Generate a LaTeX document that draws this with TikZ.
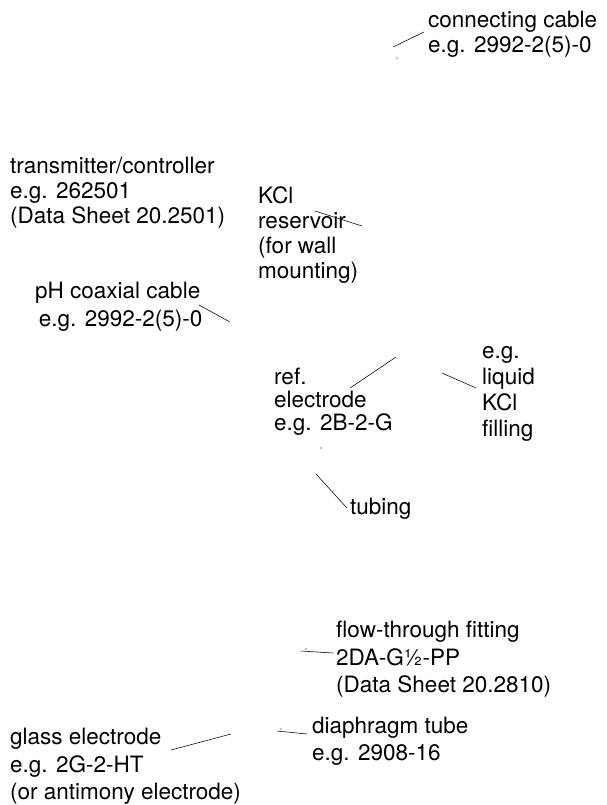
\documentclass[tikz,border=0pt]{standalone}
\usepackage{fontspec}
\setmainfont{TeX Gyre Heros}
\tikzset{callout/.style={font=\fontsize{22.5}{25}\selectfont, align=left, anchor=base west, inner sep=0pt}}
\tikzset{leader/.style={line width=0.55pt}}
\tikzset{speck/.style={fill=black, draw=none}}

\begin{document}
\begin{tikzpicture}[x=1pt, y=-1pt, line cap=round, line join=round]
		\useasboundingbox (0,0) rectangle (606,805);

		% Coordinates
		\coordinate (cableA) at (393,47);
		\coordinate (cableB) at (424,32);
		\coordinate (resA) at (315,211);
		\coordinate (resB) at (362,226);
		\coordinate (coaxA) at (199,305);
		\coordinate (coaxB) at (230,322);
		\coordinate (refA) at (350,388);
		\coordinate (refB) at (396,357);
		\coordinate (fillA) at (442,373);
		\coordinate (fillB) at (476,388);
		\coordinate (tubA) at (316,474);
		\coordinate (tubB) at (347,508);
		\coordinate (fitA) at (301,651);
		\coordinate (fitB) at (333,653);
		\coordinate (diaA) at (277,731);
		\coordinate (diaB) at (307,734);
		\coordinate (glassA) at (171,750);
		\coordinate (glassB) at (231,734);
		%% specks
		\coordinate (s1) at (397,58);
		\coordinate (s2) at (321,448);
		\coordinate (s3) at (306,649);
		\coordinate (s4) at (281,729);

		% Nodes (placed at the baseline of their last line)
		\node[callout] (cable) at (428,53) {connecting cable\\e.g. 2992-2(5)-0};
		\node[callout] (transmitter) at (10,223) {transmitter/controller\\e.g. 262501\\(Data Sheet 20.2501)};
		\node[callout] (reservoir) at (258,278) {KCl\\reservoir\\(for wall\\mounting)};
		\node[callout] (coax) at (35,326) {pH coaxial cable\\[3pt]\,e.g. 2992-2(5)-0};
		\node[callout] (refel) at (274,430) {ref.\\[-2pt]electrode\\[-2pt]e.g. 2B-2-G};
		\node[callout] (filling) at (482,436) {e.g.\\[1pt]liquid\\[1pt]KCl\\[1pt]filling};
		\node[callout] (tubing) at (350,514) {tubing};
		\node[callout] (fitting) at (336,692) {flow-through fitting\\[3pt]2DA-G½-PP\\[2pt](Data Sheet 20.2810)};
		\node[callout] (diaphragm) at (312,760) {diaphragm tube\\[2pt]e.g. 2908-16};
		\node[callout] (glass) at (10,799) {glass electrode\\[3pt]e.g. 2G-2-HT\\[2pt](or antimony electrode)};

		% Leaders
		\draw[leader] (cableA) -- (cableB);
		\draw[leader] (resA) -- (resB);
		\draw[leader] (coaxA) -- (coaxB);
		\draw[leader] (refA) -- (refB);
		\draw[leader] (fillA) -- (fillB);
		\draw[leader] (tubA) -- (tubB);
		\draw[leader] (fitA) -- (fitB);
		\draw[leader] (diaA) -- (diaB);
		\draw[leader] (glassA) -- (glassB);
		\foreach \s in {s1,s2,s3,s4}
			\fill[speck] (\s) circle[radius=0.6pt];
	\end{tikzpicture}
\end{document}
